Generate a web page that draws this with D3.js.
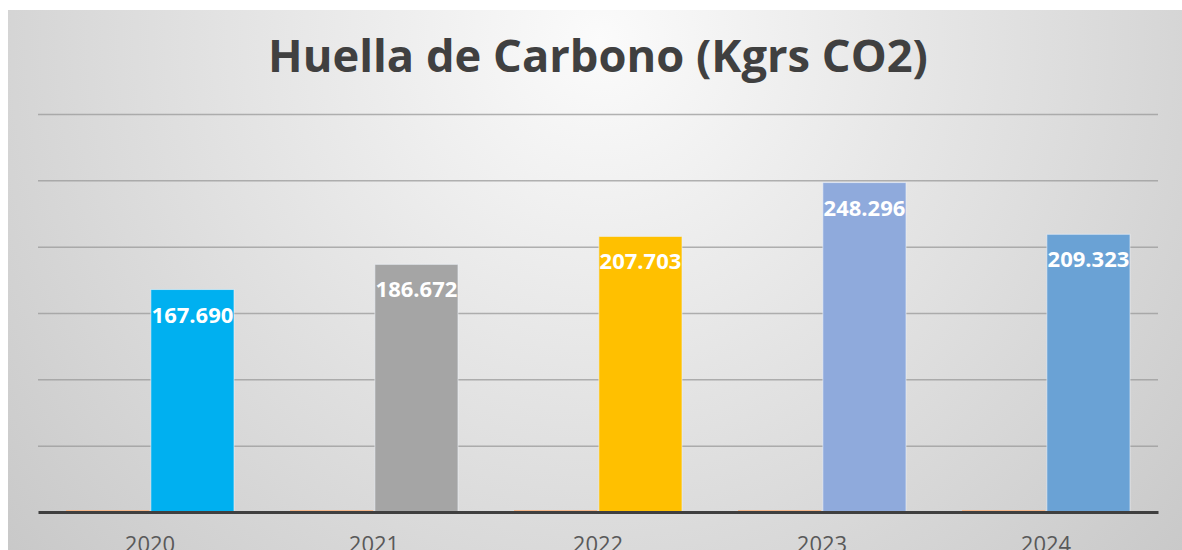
<!DOCTYPE html>
<html>
<head>
    <meta charset="utf-8">
    <title>Huella de Carbono</title>
    <script src="https://cdnjs.cloudflare.com/ajax/libs/d3/7.8.5/d3.min.js"></script>
    <style>
        body { margin: 0; background: #fff; }
        svg { display: block; }
    </style>
</head>
<body>
<script type="text/javascript">
    // data
    var years = ["2020", "2021", "2022", "2023", "2024"];
    var co2 = [167690, 186672, 207703, 248296, 209323];
    var small = [1500, 1500, 1500, 1500, 1500];   // thin orange series at the baseline
    var barColors = ["#00b0f0", "#a5a5a5", "#ffc000", "#8faadc", "#6aa2d5"];
    var yTicks = [50000, 100000, 150000, 200000, 250000, 300000];
    var title = "Huella de Carbono (Kgrs CO2)";

    var width = 1182, height = 550;
    var plotLeft = 38, plotRight = 1158, plotTop = 114, plotBottom = 512;

    var svg = d3.select("body").append("svg")
        .attr("width", width)
        .attr("height", height);

    var defs = svg.append("defs");
    var grad = defs.append("radialGradient")
        .attr("id", "bg")
        .attr("gradientUnits", "userSpaceOnUse")
        .attr("cx", 600).attr("cy", 40).attr("r", 820);
    grad.append("stop").attr("offset", "0%").attr("stop-color", "#fbfbfb");
    grad.append("stop").attr("offset", "100%").attr("stop-color", "#c6c6c6");

    svg.append("rect")
        .attr("x", 8).attr("y", 10)
        .attr("width", width - 8).attr("height", height - 10)
        .attr("fill", "url(#bg)");

    var fmt = d3.formatLocale({ decimal: ",", thousands: ".", grouping: [3], currency: ["", ""] }).format(",d");

    var x0 = d3.scaleBand()
        .domain(years)
        .range([plotLeft, plotRight])
        .paddingInner(0.25)
        .paddingOuter(0.125);

    var x1 = d3.scaleBand()
        .domain(["small", "main"])
        .range([0, x0.bandwidth()])
        .paddingInner(0.02);

    var y = d3.scaleLinear()
        .domain([0, 300000])
        .range([plotBottom, plotTop]);

    // grid lines
    svg.append("g")
        .attr("class", "grid")
        .attr("transform", "translate(" + plotLeft + ",0)")
        .call(d3.axisLeft(y).tickValues(yTicks).tickSize(-(plotRight - plotLeft)).tickFormat(""))
        .call(function (g) {
            g.select(".domain").remove();
            g.selectAll("line").attr("stroke", "#9a9a9a").attr("stroke-width", 1.5).attr("stroke-opacity", 0.75);
        });

    // small orange series
    svg.append("g").selectAll("rect")
        .data(years)
        .enter().append("rect")
        .attr("x", function (d) { return x0(d) + x1("small"); })
        .attr("width", x1.bandwidth())
        .attr("y", function (d, i) { return y(small[i]); })
        .attr("height", function (d, i) { return plotBottom - y(small[i]); })
        .attr("fill", "#f4b88c");

    // main bars
    svg.append("g").selectAll("rect")
        .data(years)
        .enter().append("rect")
        .attr("x", function (d) { return x0(d) + x1("main"); })
        .attr("width", x1.bandwidth())
        .attr("y", function (d, i) { return y(co2[i]); })
        .attr("height", function (d, i) { return plotBottom - y(co2[i]); })
        .attr("fill", function (d, i) { return barColors[i]; })
        .attr("stroke", "#eef4fa")
        .attr("stroke-opacity", 0.6)
        .attr("stroke-width", 1);

    // value labels
    svg.append("g").selectAll("text")
        .data(years)
        .enter().append("text")
        .attr("x", function (d) { return x0(d) + x1("main") + x1.bandwidth() / 2; })
        .attr("y", function (d, i) { return y(co2[i]) + 33; })
        .attr("text-anchor", "middle")
        .attr("font-family", "'Open Sans', sans-serif")
        .attr("font-weight", "bold")
        .attr("font-size", 22)
        .attr("fill", "#ffffff")
        .text(function (d, i) { return fmt(co2[i]); });

    // x axis
    svg.append("g")
        .attr("transform", "translate(0," + plotBottom + ")")
        .call(d3.axisBottom(x0).tickSize(0).tickPadding(0))
        .call(function (g) {
            g.select(".domain").attr("stroke", "#3f3f3f").attr("stroke-width", 3);
            g.selectAll("text")
                .attr("dy", 0)
                .attr("y", 40)
                .attr("font-family", "'Open Sans', sans-serif")
                .attr("font-size", 22)
                .attr("fill", "#595959");
        });

    // title
    var t = svg.append("text")
        .attr("x", 598)
        .attr("y", 72)
        .attr("text-anchor", "middle")
        .attr("font-family", "'Open Sans', sans-serif")
        .attr("font-weight", "bold")
        .attr("font-size", 40)
        .attr("fill", "#404040")
        .text(title);
    var w = t.node().getComputedTextLength();
    t.attr("font-size", 40 * 660 / w);
</script>
</body>
</html>
